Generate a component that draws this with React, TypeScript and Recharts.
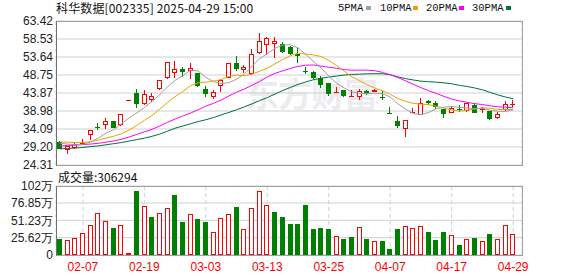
import React from 'react';
import { ComposedChart, Bar, Line, XAxis, YAxis, CartesianGrid } from 'recharts';

const dates = [
  '01-27', '02-05', '02-06', '02-07', '02-10', '02-11', '02-12', '02-13', '02-14', '02-17',
  '02-18', '02-19', '02-20', '02-21', '02-24', '02-25', '02-26', '02-27', '02-28', '03-03',
  '03-04', '03-05', '03-06', '03-07', '03-10', '03-11', '03-12', '03-13', '03-14', '03-17',
  '03-18', '03-19', '03-20', '03-21', '03-24', '03-25', '03-26', '03-27', '03-28', '03-31',
  '04-01', '04-02', '04-03', '04-07', '04-08', '04-09', '04-10', '04-11', '04-14', '04-15',
  '04-16', '04-17', '04-18', '04-21', '04-22', '04-23', '04-24', '04-25', '04-28', '04-29',
];

const opens = [
  30.56, 28.74, 29.12, 30.0, 32.65, 34.6, 35.53, 36.26, 35.36, 41.89,
  43.95, 41.07, 42.24, 45.3, 48.13, 49.49, 50.38, 50.1, 49.2, 45.03,
  42.97, 46.04, 48.29, 51.93, 50.45, 49.22, 55.08, 57.09, 57.36, 57.17,
  56.44, 54.4, 49.9, 49.49, 48.02, 46.5, 44.15, 44.6, 43.0, 43.05,
  44.49, 44.45, 42.9, 38.55, 36.34, 34.28, 38.7, 38.16, 41.6, 41.15,
  39.44, 38.71, 39.6, 39.25, 40.61, 39.4, 38.98, 37.43, 39.44, 40.85,
];
const highs = [
  30.75, 29.6, 30.37, 31.4, 33.8, 35.8, 37.07, 36.3, 38.1, 41.89,
  44.95, 44.6, 43.8, 47.4, 52.3, 52.56, 51.0, 52.1, 49.3, 45.68,
  44.6, 47.75, 52.0, 53.91, 51.5, 55.73, 60.08, 59.16, 59.16, 57.8,
  56.6, 56.0, 51.0, 49.84, 48.48, 46.6, 45.41, 44.7, 44.68, 44.95,
  44.6, 44.9, 44.4, 39.98, 37.7, 36.6, 39.87, 42.43, 41.96, 41.6,
  39.6, 40.42, 40.5, 41.2, 41.15, 39.98, 39.1, 38.62, 41.69, 41.96,
];
const lows = [
  28.8, 27.65, 28.9, 29.9, 31.45, 34.09, 34.28, 34.6, 35.3, 41.88,
  40.14, 41.0, 41.7, 44.95, 48.0, 48.13, 48.56, 47.86, 45.9, 43.05,
  42.5, 44.49, 48.2, 50.1, 49.7, 49.1, 54.65, 54.46, 53.72, 54.92,
  54.5, 52.2, 49.4, 48.0, 45.58, 43.4, 44.1, 43.1, 42.95, 42.15,
  43.7, 44.4, 42.3, 38.48, 34.55, 32.19, 38.6, 38.1, 40.8, 39.7,
  37.43, 38.6, 39.0, 38.98, 38.6, 38.79, 36.9, 37.16, 39.3, 40.34,
];
const closes = [
  28.93, 29.47, 29.93, 30.4, 33.74, 34.5, 36.26, 34.71, 38.08, 41.89,
  41.23, 43.59, 43.05, 47.31, 52.28, 50.3, 49.84, 50.74, 46.04, 43.78,
  44.22, 47.4, 51.93, 50.75, 50.8, 54.46, 57.99, 58.72, 57.99, 55.35,
  54.65, 54.1, 49.8, 48.29, 46.4, 43.95, 44.25, 43.24, 43.1, 44.33,
  43.78, 44.55, 42.75, 38.48, 35.09, 36.53, 38.75, 41.07, 41.4, 40.34,
  38.51, 39.8, 39.5, 41.07, 38.71, 39.45, 37.16, 38.08, 40.8, 40.9,
];

const ma5 = [
  30.25, 30.0, 29.8, 29.9, 30.49, 31.61, 32.97, 33.92, 35.46, 37.09,
  38.43, 39.9, 41.57, 43.41, 45.49, 47.31, 48.56, 50.09, 49.84, 48.14,
  46.92, 46.44, 46.67, 47.62, 49.02, 51.07, 53.19, 54.54, 55.99, 56.9,
  56.94, 56.16, 54.38, 52.44, 50.65, 48.51, 46.54, 45.23, 44.19, 43.77,
  43.74, 43.8, 43.7, 42.78, 40.93, 39.48, 38.32, 37.98, 38.57, 39.62,
  40.01, 40.22, 39.91, 39.84, 39.52, 39.71, 39.18, 38.89, 38.84, 39.28,
];
const ma10 = [
  30.6, 30.5, 30.4, 30.4, 30.7, 31.1, 31.6, 32.1, 32.8, 33.79,
  35.02, 36.43, 37.75, 39.44, 41.29, 42.87, 44.23, 45.83, 46.63, 46.82,
  47.12, 47.5, 48.38, 48.73, 48.56, 48.98, 49.79, 50.59, 51.78, 52.94,
  53.98, 54.65, 54.44, 54.2, 53.78, 52.72, 51.35, 49.8, 48.31, 47.21,
  46.12, 45.17, 44.46, 43.48, 42.35, 41.61, 41.06, 40.84, 40.67, 40.27,
  39.75, 39.27, 38.95, 39.21, 39.57, 39.86, 39.7, 39.4, 39.34, 39.4,
];
const ma20 = [
  29.5, 29.6, 29.7, 29.85, 30.0, 30.2, 30.5, 30.8, 31.3, 31.9,
  32.6, 33.3, 34.0, 34.9, 35.9, 36.8, 37.6, 38.4, 39.3, 40.3,
  41.07, 41.96, 43.06, 44.09, 44.93, 45.93, 47.01, 48.22, 49.21, 49.88,
  50.55, 51.08, 51.42, 51.47, 51.17, 50.86, 50.58, 50.2, 50.05, 50.08,
  50.06, 49.92, 49.46, 48.84, 48.06, 47.17, 46.21, 45.32, 44.49, 43.74,
  42.94, 42.22, 41.71, 41.34, 40.96, 40.74, 40.38, 40.12, 40.01, 39.84,
];
const ma30 = [
  28.7, 28.8, 28.9, 29.1, 29.3, 29.5, 29.8, 30.1, 30.4, 30.8,
  31.2, 31.6, 32.1, 32.7, 33.5, 34.3, 34.9, 35.5, 36.1, 36.6,
  37.2, 37.9, 38.6, 39.3, 40.1, 40.9, 41.8, 42.6, 43.6, 44.52,
  45.38, 46.2, 46.86, 47.46, 47.88, 48.19, 48.46, 48.74, 48.91, 48.99,
  49.08, 49.11, 49.1, 48.81, 48.23, 47.77, 47.4, 47.08, 46.93, 46.81,
  46.62, 46.37, 45.95, 45.63, 45.23, 44.73, 44.04, 43.35, 42.78, 42.29,
];

// volume in 万 (10k shares)
const volumes = [
  23.6, 22.2, 24.6, 32.5, 43.8, 61.6, 49.8, 39.4, 43.8, 3.0,
  94.6, 71.9, 56.2, 61.6, 69.0, 88.7, 48.8, 60.4, 53.2, 48.8,
  34.0, 54.2, 60.6, 70.9, 38.0, 69.0, 94.1, 73.4, 63.6, 56.2,
  46.3, 46.3, 73.9, 38.4, 39.9, 38.4, 27.6, 23.6, 26.6, 40.9,
  23.6, 20.7, 20.7, 8.9, 38.4, 42.4, 39.4, 42.4, 34.0, 22.2,
  34.0, 29.1, 14.8, 23.2, 25.1, 20.7, 31.0, 23.2, 43.9, 30.63,
];
// 1 = red (up), 0 = green (down)
const volUp = [
  0, 1, 1, 1, 1, 1, 1, 0, 1, 1,
  0, 1, 0, 1, 1, 0, 0, 1, 0, 0,
  1, 1, 1, 0, 1, 1, 1, 1, 0, 0,
  0, 0, 0, 0, 0, 0, 1, 0, 0, 1,
  0, 1, 0, 0, 0, 1, 1, 1, 0, 0,
  0, 1, 0, 1, 0, 1, 0, 1, 1, 1,
];

const priceTicks = [24.31, 29.2, 34.09, 38.98, 43.87, 48.75, 53.64, 58.53, 63.42];
const volTicks = [0, 25.62, 51.23, 76.85, 102];
const dateTicks = ['02-07', '02-19', '03-03', '03-13', '03-25', '04-07', '04-17', '04-29'];

const RED = '#ff0000';
const GREEN = '#008000';
const GRID = '#d0d0d0';
const FONT = "'Liberation Sans', Arial, sans-serif";

const data = dates.map((date, i) => ({
  date,
  range: [lows[i], highs[i]],
  open: opens[i],
  high: highs[i],
  low: lows[i],
  close: closes[i],
  ma5: ma5[i],
  ma10: ma10[i],
  ma20: ma20[i],
  ma30: ma30[i],
  vol: volumes[i],
  volUp: volUp[i],
}));

const Candle = (props: any) => {
  const { x, y, width, height, payload } = props;
  if (x == null || !payload) return null;
  const { open, close, high, low } = payload;
  const span = high - low || 1;
  const py = (v: number) => y + ((high - v) / span) * height;
  const L = Math.round(x + width / 2 - 2.5);
  const wx = L + 2.5;
  const up = close >= open;
  const color = up ? RED : GREEN;
  const tY = Math.round(py(Math.max(open, close)));
  const bY = Math.round(py(Math.min(open, close)));
  const hY = Math.round(py(high));
  const lY = Math.round(py(low));
  if (bY - tY < 1) {
    return (
      <g>
        {lY > hY && <line x1={wx} x2={wx} y1={hY} y2={lY + 1} stroke={color} />}
        <line x1={L} x2={L + 5} y1={tY + 0.5} y2={tY + 0.5} stroke={color} />
      </g>
    );
  }
  if (up) {
    return (
      <g>
        {tY > hY && <line x1={wx} x2={wx} y1={hY} y2={tY} stroke={color} />}
        {lY > bY && <line x1={wx} x2={wx} y1={bY + 1} y2={lY + 1} stroke={color} />}
        <rect x={L + 0.5} y={tY + 0.5} width={4} height={bY - tY} fill="#fff" stroke={color} />
      </g>
    );
  }
  return (
    <g>
      <line x1={wx} x2={wx} y1={hY} y2={lY + 1} stroke={color} />
      <rect x={L} y={tY} width={5} height={bY - tY + 1} fill={color} />
    </g>
  );
};

const VolBar = (props: any) => {
  const { x, y, width, height, payload } = props;
  if (x == null || !payload) return null;
  const L = Math.round(x + width / 2 - 2.5);
  const t = Math.round(y);
  const b = Math.round(y + height);
  if (payload.volUp) {
    return <rect x={L + 0.5} y={t + 0.5} width={4} height={Math.max(1, b - t - 1)} fill="#fff" stroke={RED} />;
  }
  return <rect x={L} y={t} width={5} height={Math.max(1, b - t)} fill={GREEN} />;
};

const legend = [
  { name: '5PMA', color: '#a0a0a0', tx: 338, sx: 366 },
  { name: '10PMA', color: '#f0a000', tx: 380, sx: 413 },
  { name: '20PMA', color: '#ff00ff', tx: 426, sx: 459 },
  { name: '30PMA', color: '#00703c', tx: 472, sx: 506 },
];

const borderBox = (top: number, height: number): React.CSSProperties => ({
  position: 'absolute',
  left: 56,
  top,
  width: 467,
  height,
  boxSizing: 'border-box',
  border: '1px solid #a0a0a0',
  borderLeft: '1px solid #707070',
  pointerEvents: 'none',
});

export default function App() {
  return (
    <div style={{ position: 'relative', width: 578, height: 276, background: '#fff', overflow: 'hidden' }}>
      <style>{'body{margin:0}'}</style>
      <div
        style={{
          position: 'absolute', left: 245, top: 74, fontSize: 34, fontWeight: 700,
          color: '#ececf0', fontFamily: "'Noto Sans CJK SC', sans-serif", lineHeight: '38px', letterSpacing: -1,
        }}
      >
        东方财富
      </div>
      <div style={{ position: 'absolute', left: 0, top: 176 - 6 }}>
        <ComposedChart width={578} height={106} data={data} margin={{ top: 16, right: 56, bottom: 0, left: 0 }}>
          <CartesianGrid vertical={false} stroke={GRID} />
          <CartesianGrid horizontal={false} stroke={GRID} strokeDasharray="4 3" />
          <XAxis
            dataKey="date"
            ticks={dateTicks}
            interval={0}
            height={21}
            tickSize={0}
            tickMargin={7}
            axisLine={false}
            padding={{ left: 0, right: 5 }}
            tick={{ fill: RED, fontSize: 12, fontFamily: FONT }}
          />
          <YAxis
            type="number"
            domain={[0, 102]}
            ticks={volTicks}
            interval={0}
            width={56}
            tickSize={0}
            tickMargin={3}
            axisLine={false}
            allowDataOverflow
            tickFormatter={(v: number) => (v === 0 ? '0' : `${v}万`)}
            tick={{ fill: '#222', fontSize: 12, fontFamily: FONT }}
          />
          <Bar dataKey="vol" barSize={5} shape={<VolBar />} isAnimationActive={false} />
        </ComposedChart>
      </div>
      <div style={{ position: 'absolute', left: 0, top: 0 }}>
        <ComposedChart width={578} height={176} data={data} margin={{ top: 21, right: 56, bottom: 11, left: 0 }}>
          <CartesianGrid vertical={false} stroke={GRID} />
          <CartesianGrid horizontal={false} stroke={GRID} strokeDasharray="4 3" />
          <XAxis
            dataKey="date"
            ticks={dateTicks}
            interval={0}
            height={0}
            tick={false}
            tickLine={false}
            axisLine={false}
            padding={{ left: 0, right: 5 }}
          />
          <YAxis
            type="number"
            domain={[24.31, 63.42]}
            ticks={priceTicks}
            interval={0}
            width={56}
            tickSize={0}
            tickMargin={3}
            axisLine={false}
            allowDataOverflow
            tickFormatter={(v: number) => v.toFixed(2)}
            tick={{ fill: '#222', fontSize: 12, fontFamily: FONT }}
          />
          <Bar dataKey="range" barSize={5} shape={<Candle />} isAnimationActive={false} />
          <Line type="linear" dataKey="ma30" stroke="#00703c" strokeWidth={1} dot={false} isAnimationActive={false} />
          <Line type="linear" dataKey="ma20" stroke="#ff00ff" strokeWidth={1} dot={false} isAnimationActive={false} />
          <Line type="linear" dataKey="ma10" stroke="#f0a000" strokeWidth={1} dot={false} isAnimationActive={false} />
          <Line type="linear" dataKey="ma5" stroke="#a0a0a0" strokeWidth={1} dot={false} isAnimationActive={false} />
        </ComposedChart>
      </div>
      <div style={borderBox(21, 145)} />
      <div style={borderBox(186, 70)} />
      <div
        style={{
          position: 'absolute', left: 56, top: 2, fontSize: 12, lineHeight: '12px', color: '#111',
          fontFamily: "'Noto Sans CJK SC', sans-serif", whiteSpace: 'pre', letterSpacing: 0.15,
        }}
      >
        科华数据[002335] 2025-04-29 15:00
      </div>
      {legend.map((l) => (
        <React.Fragment key={l.name}>
          <div
            style={{
              position: 'absolute', left: l.tx, top: 3, fontSize: 10.5, lineHeight: '10px', color: '#111',
              fontFamily: "'Liberation Mono', monospace",
            }}
          >
            {l.name}
          </div>
          <div style={{ position: 'absolute', left: l.sx, top: 6, width: 5, height: 4, background: l.color }} />
        </React.Fragment>
      ))}
      <div
        style={{
          position: 'absolute', left: 58, top: 171, fontSize: 12, lineHeight: '12px', color: '#111',
          fontFamily: "'Noto Sans CJK SC', sans-serif",
        }}
      >
        成交量:306294
      </div>
    </div>
  );
}
